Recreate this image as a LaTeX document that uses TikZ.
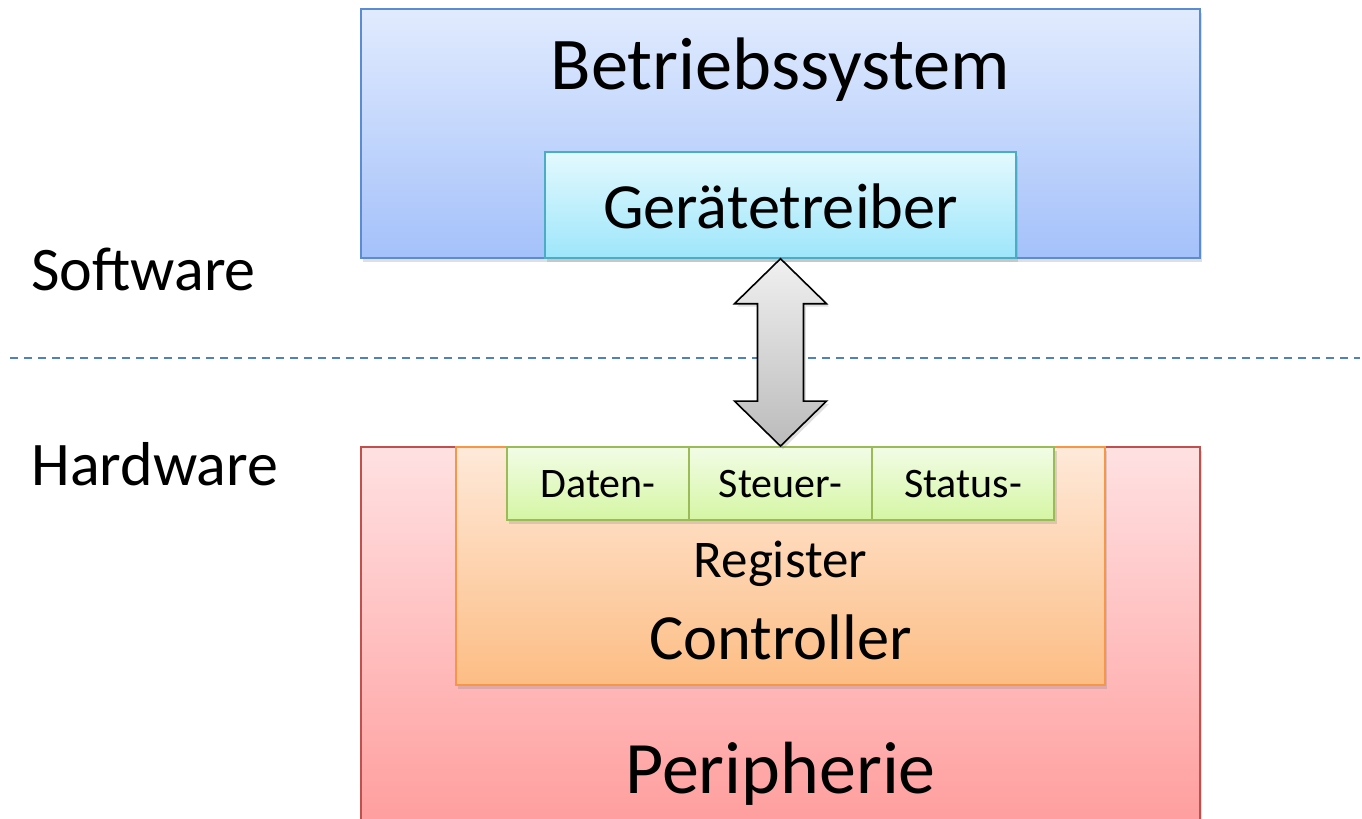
\documentclass[tikz,border=0pt]{standalone}
\usepackage{fontspec}
\setmainfont{Carlito}
\usetikzlibrary{shadows,calc}
\definecolor{osTop}{HTML}{E1EBFE}
\definecolor{osBot}{HTML}{A4C1FA}
\definecolor{osLine}{HTML}{5B8BD0}
\definecolor{drTop}{HTML}{E3F9FE}
\definecolor{drBot}{HTML}{9EE6FB}
\definecolor{drLine}{HTML}{4BACC6}
\definecolor{peTop}{HTML}{FFE1E2}
\definecolor{peBot}{HTML}{FF9E9E}
\definecolor{peLine}{HTML}{C0504D}
\definecolor{coTop}{HTML}{FEE9D9}
\definecolor{coBot}{HTML}{FDBD84}
\definecolor{coLine}{HTML}{F79646}
\definecolor{reTop}{HTML}{F2FCE6}
\definecolor{reBot}{HTML}{D5F6A4}
\definecolor{reLine}{HTML}{9BBB59}
\definecolor{arTop}{HTML}{F0F0F0}
\definecolor{arBot}{HTML}{BBBBBB}
\definecolor{sepLine}{HTML}{4F81BD}
\tikzset{
  boxbase/.style={rectangle, inner sep=0pt, line width=0.7pt,
    drop shadow={shadow xshift=1.2pt, shadow yshift=-1.8pt, opacity=0.25}},
  osbox/.style={boxbase, draw=osLine, top color=osTop, bottom color=osBot},
  drbox/.style={boxbase, draw=drLine, top color=drTop, bottom color=drBot},
  pebox/.style={boxbase, draw=peLine, top color=peTop, bottom color=peBot},
  cobox/.style={boxbase, draw=coLine, top color=coTop, bottom color=coBot},
  rebox/.style={boxbase, draw=reLine, line width=0.9pt, top color=reTop, bottom color=reBot},
  lbl/.style={inner sep=0pt, anchor=base, text=black},
}
\begin{document}
\begin{tikzpicture}[x=0.5pt,y=-0.5pt]
\useasboundingbox (0,0) rectangle (1362,819);
% Peripherie
\node[pebox, minimum width=419.5pt, minimum height=187.5pt] (peri) at (780.5,634.5) {};
% Controller
\node[cobox, minimum width=324.5pt, minimum height=119pt] (ctrl) at (780.5,566) {};
% Register
\node[rebox, minimum width=91.25pt, minimum height=36.5pt] (daten) at (598,483.5) {};
\node[rebox, minimum width=91.25pt, minimum height=36.5pt] (steuer) at (780.5,483.5) {};
\node[rebox, minimum width=91.25pt, minimum height=36.5pt] (status) at (963,483.5) {};
\node[lbl, font=\fontsize{21}{23}\selectfont] (tdaten) at (598,497) {Daten-};
\node[lbl, font=\fontsize{21}{23}\selectfont] (tsteuer) at (780.5,497) {Steuer-};
\node[lbl, font=\fontsize{21}{23}\selectfont] (tstatus) at (963,497) {Status-};
\node[lbl, font=\fontsize{26.5}{28}\selectfont] (treg) at (780.5,577) {Register};
\node[lbl, font=\fontsize{32.2}{34}\selectfont] (tctrl) at (780.5,659) {Controller};
\node[lbl, font=\fontsize{37}{40}\selectfont] (tperi) at (780.5,793) {Peripherie};
% Betriebssystem
\node[osbox, minimum width=419.5pt, minimum height=124.5pt] (os) at (780.5,133.5) {};
\node[lbl, font=\fontsize{37.2}{40}\selectfont] (tos) at (780.5,90) {Betriebssystem};
\node[drbox, minimum width=235.5pt, minimum height=53pt] (drv) at (780.5,205) {};
\node[lbl, font=\fontsize{32.2}{34}\selectfont] (tdrv) at (780.5,228) {Gerätetreiber};
% left labels
\node[lbl, anchor=base west, font=\fontsize{31}{33}\selectfont] (sw) at (31,290) {Software};
\node[lbl, anchor=base west, font=\fontsize{31}{33}\selectfont] (hw) at (31,485) {Hardware};
% separator
\coordinate (sepL) at (10,358);
\coordinate (sepR) at (1360,358);
\draw[sepLine, line width=0.8pt, dash pattern=on 4pt off 3pt] (sepL) -- (sepR);
% double arrow
\coordinate (tipT) at (drv.south);
\coordinate (tipB) at (steuer.north);
\filldraw[draw=black, line width=0.8pt, line join=miter, top color=arTop, bottom color=arBot,
  drop shadow={shadow xshift=1.2pt, shadow yshift=-1.5pt, opacity=0.25}]
  (tipT) -- ($(tipT)+(46,45)$) -- ($(tipT)+(23,45)$) -- ($(tipB)+(23,-45)$) -- ($(tipB)+(46,-45)$)
  -- (tipB) -- ($(tipB)+(-46,-45)$) -- ($(tipB)+(-23,-45)$) -- ($(tipT)+(-23,45)$) -- ($(tipT)+(-46,45)$) -- cycle;
\end{tikzpicture}
\end{document}
